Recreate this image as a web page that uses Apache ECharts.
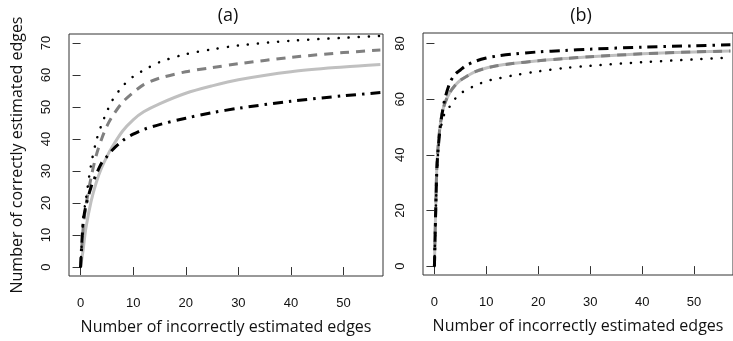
<!DOCTYPE html>
<html>
<head>
<meta charset="utf-8">
<script src="https://cdn.jsdelivr.net/npm/echarts@6/dist/echarts.min.js"></script>
<style>
  html, body { margin: 0; padding: 0; background: #fff; }
  #chart { width: 733px; height: 341px; }
</style>
</head>
<body>
<div id="chart"></div>
<script>
// panel (a)
const xA = [0, 0.5, 1, 2, 3, 4, 5, 6, 8, 10, 12, 15, 20, 25, 30, 40, 50, 57];
const dottedA  = [0, 15, 21, 32, 39.5, 44.5, 48.5, 52, 56.5, 59.5, 61.5, 64, 66.5, 68, 69.2, 70.7, 71.6, 72.2];
const dashedA  = [0, 12.5, 19, 28, 35, 40, 44, 47, 51.5, 54.5, 57, 59, 61, 62.3, 63.5, 65.5, 67, 67.8];
const solidA   = [0, 5.5, 12, 20.5, 26.5, 31, 34.5, 37.5, 42.5, 46, 48.5, 51, 54.3, 56.6, 58.5, 61, 62.5, 63.3];
const dotdashA = [0, 14, 19, 25, 29, 32.5, 34.5, 36.5, 39.5, 41.5, 43, 44.5, 46.5, 48.2, 49.6, 51.8, 53.5, 54.5];

// panel (b)
const xB = [0, 0.25, 0.5, 1, 1.5, 2, 3, 4, 5, 6, 8, 10, 12, 15, 20, 25, 30, 40, 50, 57];
const solidB   = [0, 21, 37, 49, 55, 58.5, 62.5, 65, 66.8, 68, 70, 71.2, 72, 72.8, 73.8, 74.6, 75.3, 76.3, 77, 77.3];
const dashedB  = [0, 21, 37, 49, 55, 58.5, 62.5, 65, 66.8, 68, 70, 71.2, 72, 72.8, 73.8, 74.6, 75.3, 76.3, 77, 77.3];
const dotdashB = [0, 20, 36, 48, 55, 60, 66, 69, 70.5, 72, 73.7, 74.8, 75.5, 76.2, 77, 77.5, 78, 78.7, 79.2, 79.6];
const dottedB  = [0, 19, 34, 47, 52, 55, 57.5, 60.2, 62, 63.2, 65, 66.5, 67.3, 68.5, 70, 71.2, 72, 73.3, 74.3, 75];

const xTicks = [0, 10, 20, 30, 40, 50];
const yTicksA = [0, 10, 20, 30, 40, 50, 60, 70];
const yTicksB = [0, 20, 40, 60, 80];

const xTitle = 'Number of incorrectly estimated edges';
const yTitle = 'Number of correctly estimated edges';

const zip = (xs, ys) => xs.map((x, i) => [x, ys[i]]);

const tickFont = { fontFamily: 'Liberation Sans', fontSize: 13, color: '#111' };
const nameFont = { fontFamily: 'Open Sans', fontSize: 16, color: '#111' };

function xAxis(gi, name) {
    return {
        type: 'value', gridIndex: gi, min: -2.2, max: 57.5,
        splitLine: { show: false },
        axisLine: { show: false },
        axisTick: { show: true, length: 8, customValues: xTicks, lineStyle: { color: '#333' } },
        axisLabel: Object.assign({ margin: 21, customValues: xTicks }, tickFont),
        name: name, nameLocation: 'middle', nameGap: 43, nameTextStyle: nameFont
    };
}
function yAxis(gi, min, max, ticks, name) {
    return {
        type: 'value', gridIndex: gi, min: min, max: max,
        splitLine: { show: false },
        axisLine: { show: false },
        axisTick: { show: true, length: 8, customValues: ticks, lineStyle: { color: '#333' } },
        axisLabel: Object.assign({ margin: 16, rotate: 90, customValues: ticks }, tickFont),
        name: name, nameLocation: 'middle', nameGap: 44, nameRotate: 90, nameTextStyle: nameFont
    };
}

function curves(gi, xs, dotted, dashed, solid, dotdash) {
    const base = { type: 'line', xAxisIndex: gi, yAxisIndex: gi, showSymbol: false,
                   smooth: 0.3, silent: true };
    return [
        Object.assign({}, base, { data: zip(xs, solid),
            lineStyle: { color: '#c0c0c0', width: 3, type: 'solid' } }),
        Object.assign({}, base, { data: zip(xs, dashed),
            lineStyle: { color: '#808080', width: 3, type: [9, 7] } }),
        Object.assign({}, base, { data: zip(xs, dotted),
            lineStyle: { color: '#000', width: 2.5, type: [0.1, 10], cap: 'round' } }),
        Object.assign({}, base, { data: zip(xs, dotdash),
            lineStyle: { color: '#000', width: 3, type: [10, 6, 2.5, 6] } })
    ];
}

const chart = echarts.init(document.getElementById('chart'));
chart.setOption({
    animation: false,
    grid: [
        { left: 69, top: 34, width: 314, height: 242, show: true, borderColor: '#333', borderWidth: 1, backgroundColor: 'transparent' },
        { left: 423, top: 33, width: 316, height: 242, show: true, borderColor: '#333', borderWidth: 1, backgroundColor: 'transparent' }
    ],
    xAxis: [xAxis(0, xTitle), xAxis(1, xTitle)],
    yAxis: [yAxis(0, -2.8, 72.8, yTicksA, yTitle), yAxis(1, -3.2, 83.8, yTicksB, '')],
    graphic: [
        { type: 'text', x: 228, y: 16, style: { text: '(a)', font: '18px "Open Sans"', fill: '#111', textAlign: 'center', textVerticalAlign: 'middle' } },
        { type: 'text', x: 581, y: 16, style: { text: '(b)', font: '18px "Open Sans"', fill: '#111', textAlign: 'center', textVerticalAlign: 'middle' } }
    ],
    series: curves(0, xA, dottedA, dashedA, solidA, dotdashA)
        .concat(curves(1, xB, dottedB, dashedB, solidB, dotdashB))
});
</script>
</body>
</html>
